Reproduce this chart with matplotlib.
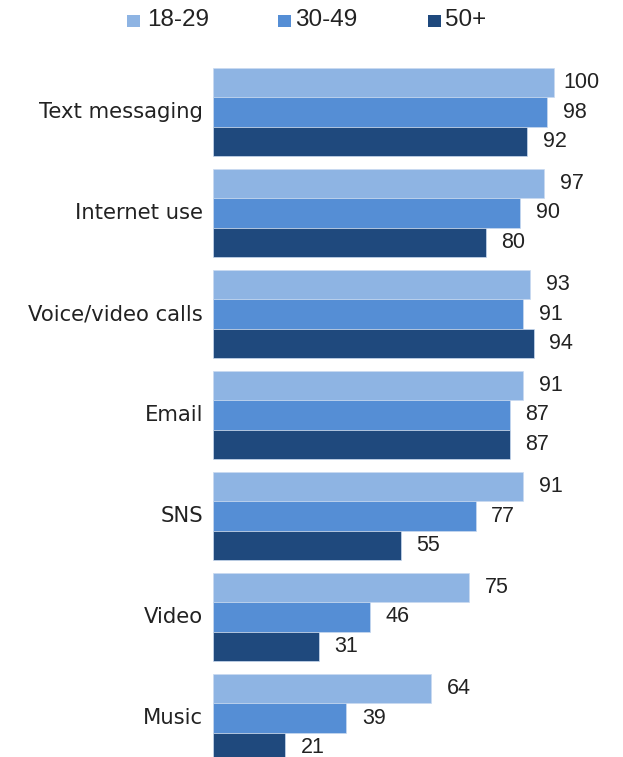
import matplotlib
matplotlib.use("Agg")
import matplotlib.pyplot as plt
from matplotlib.patches import Rectangle

categories = ["Text messaging", "Internet use", "Voice/video calls", "Email", "SNS", "Video", "Music"]
series_names = ["18-29", "30-49", "50+"]
v_18_29 = [100, 97, 93, 91, 91, 75, 64]
v_30_49 = [98, 90, 91, 87, 77, 46, 39]
v_50p = [92, 80, 94, 87, 55, 31, 21]
colors = ["#8EB4E3", "#558ED5", "#1F497D"]

W, H = 623, 757
fig = plt.figure(figsize=(W / 100, H / 100), dpi=100)
ax_left = 213 / W
ax = fig.add_axes([ax_left, 0, 1 - ax_left, 1])

px_per_unit = 3.41
ax.set_xlim(0, (W - 213) / px_per_unit)
group_px = 101.0
center0 = 112.0
ax.set_ylim((H - center0) / group_px, -center0 / group_px)

bar_h = 29.3 / group_px
series = [v_18_29, v_30_49, v_50p]
for j, (vals, c, name) in enumerate(zip(series, colors, series_names)):
    ys = [i + (j - 1) * bar_h for i in range(len(categories))]
    ax.barh(ys, vals, height=bar_h, color=c, edgecolor="#C9DAF0", linewidth=0.5, label=name)
    for y, v in zip(ys, vals):
        ax.annotate(str(v), xy=(v, y), xytext=(20, 0), textcoords="offset points",
                    ha="center", va="center", fontsize=15.5, family="Liberation Sans",
                    color="#222222", annotation_clip=False)

for i, cat in enumerate(categories):
    ax.text(-10 / px_per_unit, i, cat, ha="right", va="center", fontsize=15.2,
            family="DejaVu Sans", color="#222222", clip_on=False)

ax.set_axis_off()

# legend (manual placement, pixel-based)
sq_x = [127, 278, 428]
txt_x = [147, 295, 445]
for sx, tx, c, name in zip(sq_x, txt_x, colors, series_names):
    fig.patches.append(Rectangle((sx / W, 1 - 27 / H), 13 / W, 12 / H, facecolor=c,
                                 edgecolor="none", transform=fig.transFigure, figure=fig))
    fig.text(tx / W, 1 - 20.5 / H, name, ha="left", va="center", fontsize=17.5,
             family="Liberation Sans", color="#222222")

fig.savefig("out.png", dpi=100)
